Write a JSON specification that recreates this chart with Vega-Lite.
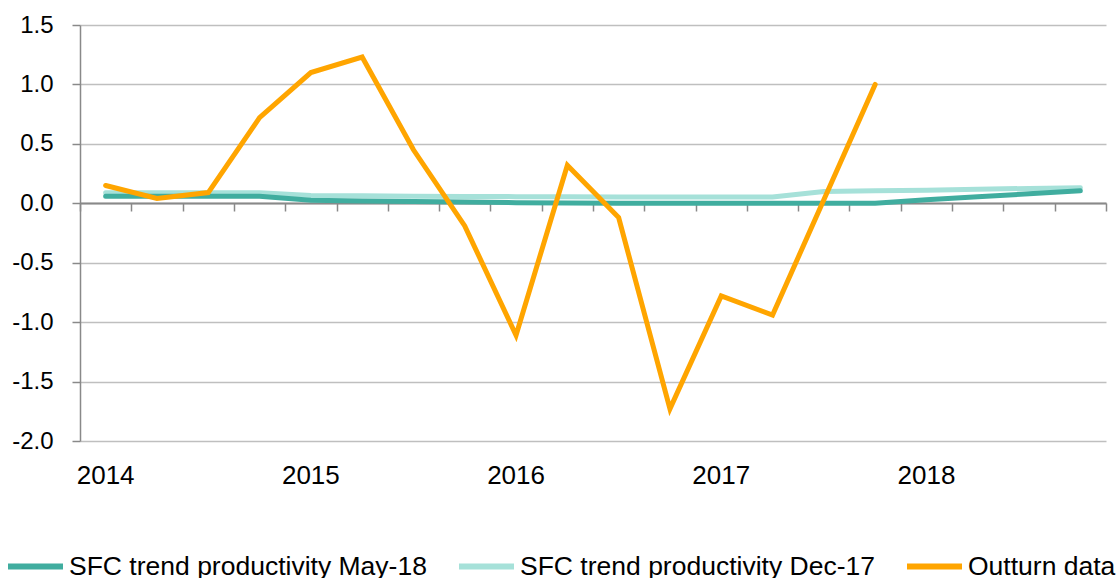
{
  "$schema": "https://vega.github.io/schema/vega-lite/v6.json",
  "width": 1026,
  "height": 416,
  "autosize": "none",
  "padding": {"left": 80, "top": 25, "right": 14, "bottom": 137},
  "background": "white",
  "config": {
    "view": {"stroke": null},
    "font": "Liberation Sans",
    "axis": {"labelFont": "Liberation Sans", "labelColor": "#000000"}
  },
  "data": {
    "values": [
      {"q": "2014 Q1", "series": "SFC trend productivity Dec-17", "value": 0.088},
      {"q": "2014 Q2", "series": "SFC trend productivity Dec-17", "value": 0.088},
      {"q": "2014 Q3", "series": "SFC trend productivity Dec-17", "value": 0.088},
      {"q": "2014 Q4", "series": "SFC trend productivity Dec-17", "value": 0.088},
      {"q": "2015 Q1", "series": "SFC trend productivity Dec-17", "value": 0.065},
      {"q": "2015 Q2", "series": "SFC trend productivity Dec-17", "value": 0.063},
      {"q": "2015 Q3", "series": "SFC trend productivity Dec-17", "value": 0.06},
      {"q": "2015 Q4", "series": "SFC trend productivity Dec-17", "value": 0.058},
      {"q": "2016 Q1", "series": "SFC trend productivity Dec-17", "value": 0.056},
      {"q": "2016 Q2", "series": "SFC trend productivity Dec-17", "value": 0.055},
      {"q": "2016 Q3", "series": "SFC trend productivity Dec-17", "value": 0.053},
      {"q": "2016 Q4", "series": "SFC trend productivity Dec-17", "value": 0.053},
      {"q": "2017 Q1", "series": "SFC trend productivity Dec-17", "value": 0.053},
      {"q": "2017 Q2", "series": "SFC trend productivity Dec-17", "value": 0.053},
      {"q": "2017 Q3", "series": "SFC trend productivity Dec-17", "value": 0.1},
      {"q": "2017 Q4", "series": "SFC trend productivity Dec-17", "value": 0.105},
      {"q": "2018 Q1", "series": "SFC trend productivity Dec-17", "value": 0.11},
      {"q": "2018 Q2", "series": "SFC trend productivity Dec-17", "value": 0.118},
      {"q": "2018 Q3", "series": "SFC trend productivity Dec-17", "value": 0.125},
      {"q": "2018 Q4", "series": "SFC trend productivity Dec-17", "value": 0.13},
      {"q": "2014 Q1", "series": "SFC trend productivity May-18", "value": 0.06},
      {"q": "2014 Q2", "series": "SFC trend productivity May-18", "value": 0.06},
      {"q": "2014 Q3", "series": "SFC trend productivity May-18", "value": 0.06},
      {"q": "2014 Q4", "series": "SFC trend productivity May-18", "value": 0.06},
      {"q": "2015 Q1", "series": "SFC trend productivity May-18", "value": 0.025},
      {"q": "2015 Q2", "series": "SFC trend productivity May-18", "value": 0.02},
      {"q": "2015 Q3", "series": "SFC trend productivity May-18", "value": 0.015},
      {"q": "2015 Q4", "series": "SFC trend productivity May-18", "value": 0.01},
      {"q": "2016 Q1", "series": "SFC trend productivity May-18", "value": 0.005},
      {"q": "2016 Q2", "series": "SFC trend productivity May-18", "value": 0.002},
      {"q": "2016 Q3", "series": "SFC trend productivity May-18", "value": 0.0},
      {"q": "2016 Q4", "series": "SFC trend productivity May-18", "value": 0.0},
      {"q": "2017 Q1", "series": "SFC trend productivity May-18", "value": 0.0},
      {"q": "2017 Q2", "series": "SFC trend productivity May-18", "value": 0.0},
      {"q": "2017 Q3", "series": "SFC trend productivity May-18", "value": 0.0},
      {"q": "2017 Q4", "series": "SFC trend productivity May-18", "value": 0.0},
      {"q": "2018 Q1", "series": "SFC trend productivity May-18", "value": 0.03},
      {"q": "2018 Q2", "series": "SFC trend productivity May-18", "value": 0.055},
      {"q": "2018 Q3", "series": "SFC trend productivity May-18", "value": 0.08},
      {"q": "2018 Q4", "series": "SFC trend productivity May-18", "value": 0.105},
      {"q": "2014 Q1", "series": "Outturn data", "value": 0.15},
      {"q": "2014 Q2", "series": "Outturn data", "value": 0.04},
      {"q": "2014 Q3", "series": "Outturn data", "value": 0.09},
      {"q": "2014 Q4", "series": "Outturn data", "value": 0.72},
      {"q": "2015 Q1", "series": "Outturn data", "value": 1.1},
      {"q": "2015 Q2", "series": "Outturn data", "value": 1.23},
      {"q": "2015 Q3", "series": "Outturn data", "value": 0.45},
      {"q": "2015 Q4", "series": "Outturn data", "value": -0.19},
      {"q": "2016 Q1", "series": "Outturn data", "value": -1.11},
      {"q": "2016 Q2", "series": "Outturn data", "value": 0.32},
      {"q": "2016 Q3", "series": "Outturn data", "value": -0.12},
      {"q": "2016 Q4", "series": "Outturn data", "value": -1.73},
      {"q": "2017 Q1", "series": "Outturn data", "value": -0.78},
      {"q": "2017 Q2", "series": "Outturn data", "value": -0.94},
      {"q": "2017 Q3", "series": "Outturn data", "value": 0.03},
      {"q": "2017 Q4", "series": "Outturn data", "value": 1.0}
    ]
  },
  "layer": [
    {
      "mark": {"type": "point", "opacity": 0},
      "encoding": {
        "x": {
          "field": "q", "type": "ordinal", "sort": null,
          "scale": {"type": "band", "paddingInner": 0, "paddingOuter": 0},
          "axis": {
            "orient": "bottom", "offset": -238, "title": null, "labels": false,
            "domain": true, "domainColor": "#898989", "domainWidth": 2,
            "ticks": true, "tickBand": "extent", "tickSize": 8, "tickColor": "#898989", "tickWidth": 1.5,
            "grid": false
          }
        },
        "y": {"field": "value", "type": "quantitative", "axis": null}
      }
    },
    {
      "mark": {"type": "line", "strokeWidth": 5, "strokeCap": "round", "strokeJoin": "miter"},
      "encoding": {
        "x": {
          "field": "q", "type": "ordinal", "sort": null, "bandPosition": 0.5,
          "axis": {
            "orient": "bottom", "title": null, "domain": false, "ticks": false, "grid": false,
            "labelAngle": 0, "labelFontSize": 26, "labelPadding": 21,
            "labelExpr": "slice(datum.label, 5) == 'Q1' ? slice(datum.label, 0, 4) : ''"
          }
        },
        "y": {
          "field": "value", "type": "quantitative",
          "scale": {"domain": [-2, 1.5], "nice": false, "zero": false},
          "axis": {
            "title": null, "values": [-2, -1.5, -1, -0.5, 0, 0.5, 1, 1.5],
            "labelExpr": "replace(format(datum.value, '.1f'), '\u2212', '-')",
            "labelFontSize": 24, "labelPadding": 19,
            "domain": true, "domainColor": "#898989", "domainWidth": 1.5,
            "ticks": true, "tickSize": 8, "tickColor": "#898989", "tickWidth": 1.5,
            "grid": true, "gridColor": "#BFBFBF", "gridWidth": 1.5
          }
        },
        "color": {
          "field": "series", "type": "nominal",
          "scale": {
            "domain": ["SFC trend productivity May-18", "SFC trend productivity Dec-17", "Outturn data"],
            "range": ["#40AD9F", "#A6E1D9", "#FFA500"]
          },
          "legend": {
            "orient": "none", "legendX": -75, "legendY": 511, "direction": "horizontal",
            "title": null, "symbolType": "stroke", "symbolSize": 3025, "symbolStrokeWidth": 6,
            "labelFontSize": 26.5, "labelFont": "Liberation Sans", "labelColor": "#000000",
            "labelLimit": 600, "labelOffset": 3, "columnPadding": 20
          }
        }
      }
    }
  ],
  "resolve": {"axis": {"x": "independent", "y": "independent"}}
}
